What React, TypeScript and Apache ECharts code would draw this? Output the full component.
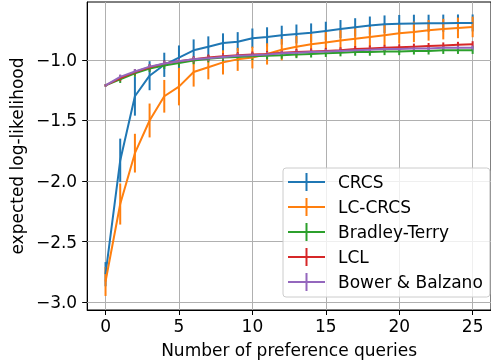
import React, { useEffect, useRef } from "react";
import * as echarts from "echarts";

const queries = [0, 1, 2, 3, 4, 5, 6, 7, 8, 9, 10, 11, 12, 13, 14, 15, 16, 17, 18, 19, 20, 21, 22, 23, 24, 25];

const crcsMean = [-2.77, -1.83, -1.3, -1.13, -1.04, -0.98, -0.92, -0.89, -0.86, -0.85, -0.82, -0.81, -0.795, -0.785, -0.775, -0.76, -0.745, -0.73, -0.715, -0.705, -0.7, -0.698, -0.697, -0.696, -0.694, -0.694];
const crcsErr = [0.1, 0.18, 0.16, 0.12, 0.1, 0.1, 0.09, 0.085, 0.08, 0.08, 0.08, 0.08, 0.078, 0.078, 0.077, 0.076, 0.075, 0.075, 0.074, 0.073, 0.072, 0.072, 0.071, 0.071, 0.07, 0.07];

const lcMean = [-2.83, -2.19, -1.77, -1.5, -1.3, -1.22, -1.1, -1.06, -1.02, -0.995, -0.98, -0.95, -0.915, -0.89, -0.87, -0.855, -0.84, -0.825, -0.81, -0.795, -0.78, -0.768, -0.755, -0.745, -0.735, -0.727];
const lcErr = [0.12, 0.17, 0.16, 0.14, 0.135, 0.155, 0.12, 0.1, 0.1, 0.095, 0.09, 0.088, 0.088, 0.087, 0.087, 0.086, 0.086, 0.086, 0.085, 0.085, 0.085, 0.085, 0.085, 0.085, 0.085, 0.085];

const btMean = [-1.21, -1.16, -1.11, -1.07, -1.045, -1.025, -1.005, -0.99, -0.98, -0.975, -0.97, -0.965, -0.96, -0.955, -0.95, -0.945, -0.94, -0.935, -0.935, -0.93, -0.93, -0.925, -0.925, -0.92, -0.92, -0.92];
const btErr = [0.01, 0.03, 0.03, 0.03, 0.03, 0.03, 0.03, 0.03, 0.03, 0.03, 0.03, 0.03, 0.03, 0.03, 0.03, 0.03, 0.03, 0.03, 0.03, 0.03, 0.03, 0.03, 0.03, 0.03, 0.03, 0.03];

const lclMean = [-1.21, -1.15, -1.1, -1.06, -1.03, -1.01, -0.995, -0.98, -0.97, -0.96, -0.955, -0.95, -0.94, -0.935, -0.93, -0.925, -0.92, -0.91, -0.905, -0.9, -0.895, -0.89, -0.885, -0.88, -0.875, -0.87];
const lclErr = [0.01, 0.025, 0.025, 0.025, 0.025, 0.025, 0.025, 0.025, 0.025, 0.025, 0.025, 0.025, 0.025, 0.025, 0.025, 0.025, 0.025, 0.025, 0.025, 0.025, 0.025, 0.025, 0.025, 0.025, 0.025, 0.025];

const bbMean = [-1.21, -1.14, -1.095, -1.055, -1.03, -1.01, -0.995, -0.985, -0.975, -0.965, -0.96, -0.955, -0.945, -0.94, -0.935, -0.93, -0.925, -0.92, -0.915, -0.91, -0.91, -0.905, -0.905, -0.9, -0.9, -0.9];
const bbErr = [0.01, 0.02, 0.02, 0.02, 0.02, 0.02, 0.02, 0.02, 0.02, 0.02, 0.02, 0.02, 0.02, 0.02, 0.02, 0.02, 0.02, 0.02, 0.02, 0.02, 0.02, 0.02, 0.02, 0.02, 0.02, 0.02];

const seriesNames = ["CRCS", "LC-CRCS", "Bradley-Terry", "LCL", "Bower & Balzano"];
const seriesColors = ["#1f77b4", "#ff7f0e", "#2ca02c", "#d62728", "#9467bd"];

const xTicks = [0, 5, 10, 15, 20, 25];
const yTicks = [-3.0, -2.5, -2.0, -1.5, -1.0];

const FONT = "DejaVu Sans";
const FS = 17;

export default function App() {
  const ref = useRef<HTMLDivElement>(null);
  useEffect(() => {
    if (!ref.current) return;
    const chart = echarts.init(ref.current, null, { renderer: "svg" });
    const means = [crcsMean, lcMean, btMean, lclMean, bbMean];
    const errs = [crcsErr, lcErr, btErr, lclErr, bbErr];
    const series: any[] = [];
    // grid lines at the tick positions
    series.push({
      type: "line",
      name: "grid",
      data: [],
      z: 1,
      silent: true,
      markLine: {
        z: 1,
        silent: true,
        symbol: "none",
        animation: false,
        label: { show: false },
        lineStyle: { color: "#b0b0b0", width: 1, type: "solid" },
        emphasis: { disabled: true },
        data: [...xTicks.map((v) => ({ xAxis: v })), ...yTicks.map((v) => ({ yAxis: v }))],
      },
    });
    seriesNames.forEach((name, i) => {
      const color = seriesColors[i];
      series.push({
        type: "line",
        name,
        data: queries.map((q, j) => [q, means[i][j]]),
        symbol: "none",
        lineStyle: { color, width: 2 },
        itemStyle: { color },
        z: 2,
      });
      series.push({
        type: "custom",
        name: name + "-err",
        data: queries.map((q, j) => [q, means[i][j] - errs[i][j], means[i][j] + errs[i][j]]),
        encode: { x: 0, y: [1, 2] },
        z: 2,
        renderItem: (params: any, api: any) => {
          const x = api.value(0);
          const p1 = api.coord([x, api.value(1)]);
          const p2 = api.coord([x, api.value(2)]);
          return {
            type: "line",
            shape: { x1: p1[0], y1: p1[1], x2: p2[0], y2: p2[1] },
            style: { stroke: color, lineWidth: 2 },
          };
        },
      });
    });

    const fmt = (v: number, d: number) => {
      const s = d > 0 ? v.toFixed(d) : String(Math.round(v));
      return s.replace("-", "\u2212");
    };

    chart.setOption({
      animation: false,
      grid: {
        left: 86,
        top: 2,
        right: -7.5,
        bottom: 53,
        show: true,
        borderColor: "#000",
        borderWidth: 1,
        backgroundColor: "transparent",
      },
      xAxis: {
        type: "value",
        min: -1.25,
        max: 26.25,
        name: "Number of preference queries",
        nameLocation: "middle",
        nameGap: 31,
        nameTextStyle: { fontFamily: FONT, fontSize: FS, color: "#000" },
        axisLine: { show: true, onZero: false, lineStyle: { color: "#000", width: 1 } },
        axisTick: { show: true, length: 5, lineStyle: { color: "#000" }, customValues: xTicks },
        axisLabel: { customValues: xTicks, fontFamily: FONT, fontSize: FS, color: "#000", margin: 7, formatter: (v: number) => fmt(v, 0) },
        splitLine: { show: false },
      },
      yAxis: {
        type: "value",
        min: -3.066,
        max: -0.521,
        name: "expected log-likelihood",
        nameLocation: "middle",
        nameGap: 60,
        nameTextStyle: { fontFamily: FONT, fontSize: FS, color: "#000" },
        axisLine: { show: true, onZero: false, lineStyle: { color: "#000", width: 1 } },
        axisTick: { show: true, length: 5, lineStyle: { color: "#000" }, customValues: yTicks },
        axisLabel: { customValues: yTicks, fontFamily: FONT, fontSize: FS, color: "#000", margin: 10, formatter: (v: number) => fmt(v, 1) },
        splitLine: { show: false },
      },
      legend: {
        z: 10,
        orient: "vertical",
        left: 283,
        top: 168,
        padding: [5, 7, 6, 5],
        itemWidth: 37,
        itemHeight: 18,
        itemGap: 7,
        backgroundColor: "rgba(255,255,255,0.8)",
        borderColor: "#cccccc",
        borderWidth: 1,
        borderRadius: 3,
        textStyle: { fontFamily: FONT, fontSize: FS, color: "#000", padding: [0, 0, 0, 8] },
        data: seriesNames.map((n, i) => ({
          name: n,
          icon: "path://M0,8 L37,8 L37,10 L0,10 Z M17.5,0 L19.5,0 L19.5,18 L17.5,18 Z",
          itemStyle: { color: seriesColors[i] },
        })),
      },
      series,
    });
    return () => chart.dispose();
  }, []);
  return <div ref={ref} style={{ position: "fixed", left: 0, top: 0, width: 491, height: 363 }} />;
}
